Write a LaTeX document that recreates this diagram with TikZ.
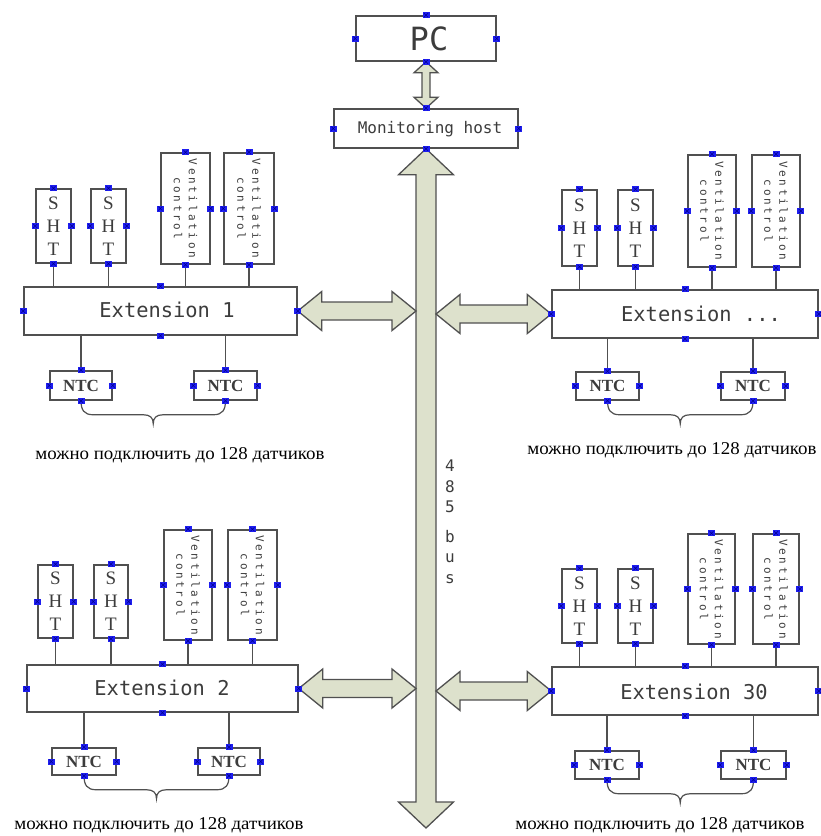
\documentclass[tikz,border=0pt]{standalone}
\usepackage{fontspec}
\setmainfont{Liberation Serif}
\newfontfamily\monof{DejaVu Sans Mono}
\newfontfamily\ventf[LetterSpace=24]{DejaVu Sans Mono}
\newfontfamily\cyrf[FakeStretch=1.05]{Liberation Serif}
\usetikzlibrary{calc}
\definecolor{ln}{HTML}{505050}
\definecolor{afill}{HTML}{DDE1CC}
\definecolor{mk}{HTML}{1E1EF0}
\definecolor{mkd}{HTML}{000090}
\definecolor{txt}{HTML}{3C3C3C}
\tikzset{
  box/.style={draw=ln, line width=1.5pt, fill=white, inner sep=0pt, rectangle},
  line/.style={draw=ln, line width=1.6pt},
  barrow/.style={draw=ln, line width=1.3pt, fill=afill, line join=miter},
  monotext/.style={text=txt, inner sep=0pt, font=\monof\fontsize{20.4}{22}\selectfont},
  venttext/.style={text=txt, inner sep=0pt, align=center, rotate=-90, font=\ventf\fontsize{11}{15}\selectfont},
  shttext/.style={text=txt, inner sep=0pt, align=center, font=\fontsize{19}{23}\selectfont},
  ntctext/.style={text=txt, inner sep=0pt, font=\bfseries\fontsize{17}{17}\selectfont},
  note/.style={text=black, inner sep=0pt, font=\cyrf\fontsize{18}{18}\selectfont},
}
\newcommand\bx[5]{\node[box, minimum width={#4-#2}, minimum height={#5-#3}] (#1) at ({(#2+#4)/2},{(#3+#5)/2}) {};}
\newcommand\hdarrow[2]{\draw[barrow] let \p1=#1, \p2=#2 in
  (\x1,\y1) -- (\x1+24pt,\y1+19.5pt) -- (\x1+24pt,\y1+9pt) -- (\x2-24pt,\y1+9pt) -- (\x2-24pt,\y1+19.5pt)
  -- (\x2,\y1) -- (\x2-24pt,\y1-19.5pt) -- (\x2-24pt,\y1-9pt) -- (\x1+24pt,\y1-9pt) -- (\x1+24pt,\y1-19.5pt) -- cycle;}
\newcommand\vdarrow[5]{\draw[barrow] let \p1=#1, \p2=#2 in
  (\x1,\y1) -- (\x1+#4,\y1-#5) -- (\x1+#3,\y1-#5) -- (\x1+#3,\y2+#5) -- (\x1+#4,\y2+#5) -- (\x1,\y2)
  -- (\x1-#4,\y2+#5) -- (\x1-#3,\y2+#5) -- (\x1-#3,\y1-#5) -- (\x1-#4,\y1-#5) -- cycle;}
\newcommand\ntcbrace[2]{\draw[line, line width=1.2pt] let \p1=(#1.south), \p2=(#2.south), \p3=($(\p1)!0.5!(\p2)$) in
  (\x1,\y1) .. controls (\x1,\y1-9pt) and (\x1+3pt,\y1-14pt) .. (\x1+12pt,\y1-14pt)
  -- (\x3-10pt,\y1-14pt) .. controls (\x3-3pt,\y1-14pt) and (\x3,\y1-17pt) .. (\x3,\y1-23pt)
  .. controls (\x3,\y1-17pt) and (\x3+3pt,\y1-14pt) .. (\x3+10pt,\y1-14pt)
  -- (\x2-12pt,\y1-14pt) .. controls (\x2-3pt,\y1-14pt) and (\x2,\y1-9pt) .. (\x2,\y2);}
\begin{document}
\begin{tikzpicture}[x=1pt,y=-1pt]
\useasboundingbox (0,0) rectangle (821,836);
\fill[white] (0,0) rectangle (821,836);

% top
\bx{pc}{356}{16}{496}{61}
\bx{host}{334}{109}{518}{148}
\node[monotext, font=\monof\fontsize{32}{32}\selectfont] (pct) at (429,39) {PC};
\node[monotext, font=\monof\fontsize{16}{16}\selectfont] (hostt) at (430,129) {Monitoring host};
\vdarrow{(pc.south)}{(host.north)}{4pt}{12pt}{11pt}

% bus
\coordinate (busbot) at (426,828);
\coordinate (busL) at (416,0);
\coordinate (busR) at (436,0);
\vdarrow{(host.south)}{(busbot)}{10pt}{27.5pt}{26pt}
\node[monotext, align=center, font=\monof\fontsize{16}{20.5}\selectfont] (bust) at (450,522) {4\\8\\5\\[9pt]b\\u\\s};

% ---- top-left block
\bx{e1}{24}{287}{297}{335}
\node[monotext] (e1t) at (167,310) {Extension 1};
\bx{e1s1}{36}{189}{71}{263}
\bx{e1s2}{91}{189}{126}{263}
\bx{e1v1}{161}{153}{210}{264}
\bx{e1v2}{224}{153}{274}{264}
\bx{e1n1}{50}{371}{112}{400}
\bx{e1n2}{194}{371}{257}{400}
\node[note] (e1note) at (180,455) {можно подключить до 128 датчиков};

% ---- top-right block
\bx{ea}{552}{290}{818}{338}
\node[monotext] (eat) at (701,314) {Extension ...};
\bx{eas1}{562}{190}{597}{266}
\bx{eas2}{618}{190}{653}{266}
\bx{eav1}{688}{155}{736}{267}
\bx{eav2}{752}{155}{800}{267}
\bx{ean1}{576}{372}{639}{400}
\bx{ean2}{721}{372}{785}{400}
\node[note] (eanote) at (672,450) {можно подключить до 128 датчиков};

% ---- bottom-left block
\bx{e2}{27}{665}{298}{712}
\node[monotext] (e2t) at (162,688) {Extension 2};
\bx{e2s1}{38}{565}{73}{638}
\bx{e2s2}{94}{565}{128}{638}
\bx{e2v1}{164}{530}{212}{640}
\bx{e2v2}{228}{530}{277}{640}
\bx{e2n1}{52}{748}{116}{775}
\bx{e2n2}{198}{748}{260}{775}
\node[note] (e2note) at (159,825) {можно подключить до 128 датчиков};

% ---- bottom-right block
\bx{e3}{552}{667}{818}{715}
\node[monotext] (e3t) at (694,692) {Extension 30};
\bx{e3s1}{562}{569}{597}{643}
\bx{e3s2}{618}{569}{653}{643}
\bx{e3v1}{688}{534}{735}{644}
\bx{e3v2}{753}{534}{799}{644}
\bx{e3n1}{575}{751}{639}{779}
\bx{e3n2}{721}{751}{786}{779}
\node[note] (e3note) at (660,825) {можно подключить до 128 датчиков};

% contents and connectors of the four blocks
\foreach \e in {e1,ea,e2,e3}{
  \foreach \s in {s1,s2}{
    \node[shttext] (\e\s t) at (\e\s) {S\\H\\T};
    \draw[line] (\e\s.south) -- (\e\s.south |- \e.north);
  }
  \foreach \v in {v1,v2}{
    \node[venttext] (\e\v t) at (\e\v) {Ventilation\\control};
    \draw[line] (\e\v.south) -- (\e\v.south |- \e.north);
  }
  \foreach \n in {n1,n2}{
    \node[ntctext] (\e\n t) at (\e\n) {NTC};
    \draw[line] (\e\n.north) -- (\e\n.north |- \e.south);
  }
  \ntcbrace{\e n1}{\e n2}
}

% horizontal bus arrows
\hdarrow{(e1.east)}{(e1.east -| busL)}
\hdarrow{(e2.east)}{(e2.east -| busL)}
\hdarrow{(ea.west -| busR)}{(ea.west)}
\hdarrow{(e3.west -| busR)}{(e3.west)}

% connection point markers
\foreach \b in {pc,host,e1,ea,e2,e3,
  e1s1,e1s2,e1v1,e1v2,e1n1,e1n2, eas1,eas2,eav1,eav2,ean1,ean2,
  e2s1,e2s2,e2v1,e2v2,e2n1,e2n2, e3s1,e3s2,e3v1,e3v2,e3n1,e3n2}{
  \foreach \a in {north,south,east,west}{
    \fill[mk] ($(\b.\a)+(-3.5,-3)$) rectangle ($(\b.\a)+(3.5,3)$);
    \draw[mkd, line width=0.5pt] ($(\b.\a)+(-2,-2)$) -- ($(\b.\a)+(2,2)$) ($(\b.\a)+(-2,2)$) -- ($(\b.\a)+(2,-2)$);
  }
}
\end{tikzpicture}
\end{document}
